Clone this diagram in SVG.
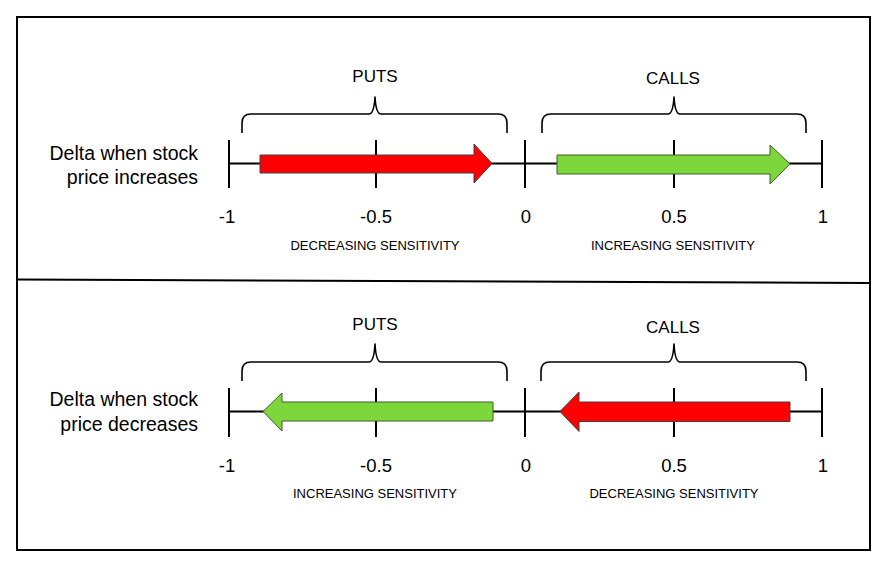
<svg xmlns="http://www.w3.org/2000/svg" width="890" height="570" viewBox="0 0 890 570">
  <style>
    text { font-family: "Liberation Sans", Arial, sans-serif; fill: #000; }
    .axis { stroke: #000; stroke-width: 2; fill: none; }
    .brace { stroke: #000; stroke-width: 1.6; fill: none; stroke-linejoin: round; }
    .red { fill: #FF0000; stroke: #404040; stroke-width: 1; }
    .green { fill: #7DD63B; stroke: #3F5F2A; stroke-width: 1; }
    .row { font-size: 19.5px; text-anchor: end; }
    .grp { font-size: 17px; text-anchor: middle; }
    .tick { font-size: 18.5px; text-anchor: middle; }
    .sens { font-size: 13px; text-anchor: middle; }
  </style>
  <rect width="890" height="570" fill="#fff"/>
  <g id="frame">
    <rect x="17" y="17" width="853" height="533" fill="none" stroke="#000" stroke-width="2"/>
    <line x1="17" y1="279.5" x2="870" y2="283" stroke="#000" stroke-width="2"/>
  </g>

  <g id="top-panel">
    <g id="top-row-label">
      <text class="row" x="198" y="160">Delta when stock</text>
      <text class="row" x="198" y="184">price increases</text>
    </g>
    <g id="top-axis">
      <line class="axis" x1="229" y1="163.5" x2="822" y2="163.5"/>
      <line class="axis" x1="229" y1="140" x2="229" y2="188"/>
      <line class="axis" x1="376" y1="140" x2="376" y2="188"/>
      <line class="axis" x1="525" y1="140" x2="525" y2="188"/>
      <line class="axis" x1="674" y1="140" x2="674" y2="188"/>
      <line class="axis" x1="822" y1="140" x2="822" y2="188"/>
      <text class="tick" x="227" y="223">-1</text>
      <text class="tick" x="376" y="223">-0.5</text>
      <text class="tick" x="526" y="223">0</text>
      <text class="tick" x="674" y="223">0.5</text>
      <text class="tick" x="823" y="223">1</text>
    </g>
    <g id="top-puts">
      <path class="brace" d="M242,133 V123 Q242,114 251,114 H369 Q374,114 375,97 Q376,114 381,114 H498 Q507,114 507,123 V133"/>
      <text class="grp" x="375" y="82">PUTS</text>
      <path class="red" d="M260,155 H474 V144 L492,163.5 L474,183 V173 H260 Z"/>
      <text class="sens" x="375" y="250">DECREASING SENSITIVITY</text>
    </g>
    <g id="top-calls">
      <path class="brace" d="M542,133 V123 Q542,114 551,114 H668 Q673,114 674,97 Q675,114 680,114 H797 Q806,114 806,123 V133"/>
      <text class="grp" x="673" y="84">CALLS</text>
      <path class="green" d="M557,155 H770 V145 L790,164 L770,184 V174 H557 Z"/>
      <text class="sens" x="673" y="250">INCREASING SENSITIVITY</text>
    </g>
  </g>

  <g id="bottom-panel">
    <g id="bottom-row-label">
      <text class="row" x="198" y="406">Delta when stock</text>
      <text class="row" x="198" y="431">price decreases</text>
    </g>
    <g id="bottom-axis">
      <line class="axis" x1="229" y1="411.5" x2="822" y2="411.5"/>
      <line class="axis" x1="229" y1="388" x2="229" y2="437"/>
      <line class="axis" x1="376" y1="388" x2="376" y2="437"/>
      <line class="axis" x1="525" y1="388" x2="525" y2="437"/>
      <line class="axis" x1="674" y1="388" x2="674" y2="437"/>
      <line class="axis" x1="822" y1="388" x2="822" y2="437"/>
      <text class="tick" x="227" y="472">-1</text>
      <text class="tick" x="376" y="472">-0.5</text>
      <text class="tick" x="526" y="472">0</text>
      <text class="tick" x="674" y="472">0.5</text>
      <text class="tick" x="823" y="472">1</text>
    </g>
    <g id="bottom-puts">
      <path class="brace" d="M242,381 V371 Q242,362 251,362 H369 Q374,362 375,344 Q376,362 381,362 H498 Q507,362 507,371 V381"/>
      <text class="grp" x="375" y="330">PUTS</text>
      <path class="green" d="M493,402 H282 V393 L263,411.5 L282,431 V421 H493 Z"/>
      <text class="sens" x="375" y="498">INCREASING SENSITIVITY</text>
    </g>
    <g id="bottom-calls">
      <path class="brace" d="M541,381 V371 Q541,362 550,362 H668 Q673,362 674,344 Q675,362 680,362 H797 Q806,362 806,371 V381"/>
      <text class="grp" x="673" y="333">CALLS</text>
      <path class="red" d="M790,402 H579 V392 L560,411.5 L579,431.5 V421.5 H790 Z"/>
      <text class="sens" x="674" y="498">DECREASING SENSITIVITY</text>
    </g>
  </g>
</svg>
